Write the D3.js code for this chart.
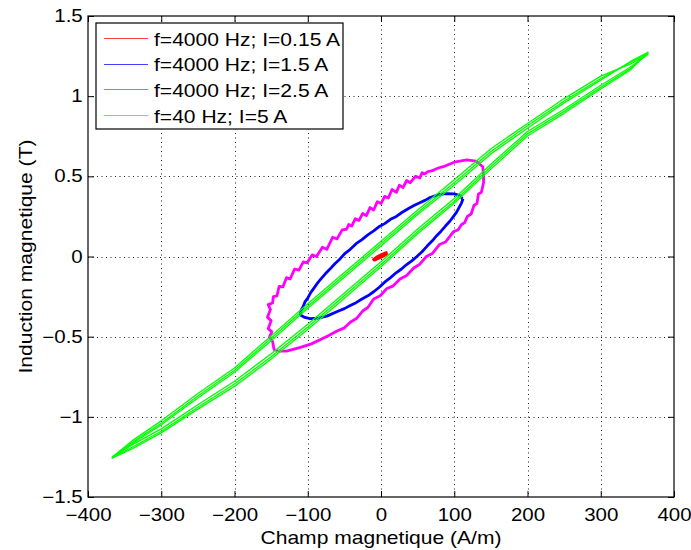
<!DOCTYPE html>
<html>
<head>
<meta charset="utf-8">
<script src="https://cdn.jsdelivr.net/npm/d3@7"></script>
<style>
  body { margin: 0; background: #fff; }
  text { font-family: "Liberation Sans", Arial, Helvetica, sans-serif; fill: #000; }
</style>
</head>
<body>
<svg class="chart"></svg>
<script>
// tick values and labels
var xTicks = [-400, -300, -200, -100, 0, 100, 200, 300, 400];
var xTickLabels = ["\u2212400", "\u2212300", "\u2212200", "\u2212100", "0", "100", "200", "300", "400"];
var yTicks = [-1.5, -1, -0.5, 0, 0.5, 1, 1.5];
var yTickLabels = ["\u22121.5", "\u22121", "\u22120.5", "0", "0.5", "1", "1.5"];

var seriesNames = ["f=4000 Hz; I=0.15 A", "f=4000 Hz; I=1.5 A", "f=4000 Hz; I=2.5 A", "f=40 Hz; I=5 A"];

// loops, [H (A/m), B (T)]
var redLoop = [[9,0.025],[5,0.02],[0,0.01],[-5,-0.002],[-10,-0.018],[-9,-0.022],[-4,-0.012],[1,-0.002],[6,0.01],[9,0.022]];

var blueLoop = [[111,0.36],[108,0.38],[100,0.39],[90,0.392],[80,0.387],[67,0.368],[60,0.35],[53,0.335],[45,0.318],[37,0.298],
  [29,0.276],[21,0.25],[13,0.232],[5,0.205],[-3,0.185],[-10,0.16],[-18,0.135],[-26,0.105],[-34,0.08],[-42,0.045],
  [-49,0.02],[-56,-0.015],[-63,-0.045],[-70,-0.08],[-76,-0.108],[-82,-0.14],[-87,-0.168],[-92,-0.2],[-96,-0.225],[-100,-0.26],
  [-104,-0.285],[-106,-0.31],[-109,-0.335],[-110,-0.355],
  [-110,-0.365],[-104,-0.38],[-97,-0.387],[-86,-0.385],[-74,-0.372],[-58,-0.34],[-50,-0.325],[-42,-0.305],[-34,-0.288],[-26,-0.265],
  [-18,-0.245],[-10,-0.22],[-2,-0.19],[5,-0.16],[13,-0.132],[21,-0.1],[28,-0.078],[35,-0.05],[42,-0.027],[49,0],
  [56,0.03],[63,0.065],[70,0.098],[76,0.13],[82,0.158],[88,0.19],[94,0.22],[99,0.25],[103,0.275],[106,0.3],
  [110,0.335],[112,0.36]];

var magentaLoop = [[140,0.5],[139,0.56],[130,0.595],[117,0.602],[100,0.588],[85,0.56],[78,0.552],[70,0.535],[64,0.53],[60,0.515],
  [56,0.522],[53,0.49],[47,0.5],[40,0.46],[35,0.474],[30,0.43],[25,0.445],[21,0.4],[15,0.418],[10,0.365],
  [5,0.375],[0,0.33],[-5,0.342],[-10,0.29],[-15,0.305],[-20,0.255],[-25,0.268],[-30,0.225],[-35,0.236],[-40,0.19],
  [-44,0.2],[-47,0.17],[-53,0.166],[-60,0.11],[-66,0.12],[-74,0.045],[-80,0.058],[-88,0],[-94,0.01],[-101,-0.04],
  [-106,-0.034],[-112,-0.085],[-118,-0.078],[-124,-0.14],[-129,-0.132],[-134,-0.19],[-139,-0.186],[-142,-0.245],[-147,-0.25],[-148,-0.29],
  [-154,-0.3],[-151,-0.33],[-155,-0.38],[-150,-0.4],[-154,-0.45],[-149,-0.47],[-152,-0.5],[-148,-0.53],[-146,-0.58],[-140,-0.59],
  [-129,-0.59],[-110,-0.567],[-95,-0.545],[-79,-0.51],[-70,-0.49],[-60,-0.465],[-50,-0.445],[-42,-0.41],[-33,-0.385],[-25,-0.34],
  [-18,-0.318],[-10,-0.265],[-1,-0.245],[8,-0.2],[16,-0.185],[26,-0.14],[35,-0.118],[45,-0.07],[52,-0.052],[62,0],
  [70,0.018],[80,0.075],[88,0.09],[99,0.155],[105,0.165],[110,0.2],[114,0.21],[118,0.25],[123,0.265],[127,0.32],
  [131,0.33],[133,0.39],[137,0.4],[140,0.46],[140,0.5]];

// green loop: several cycles sharing the same H samples
// descending branch from +Hmax to -Hmax, then ascending branch back
var greenH = [365, 340, 300, 250, 200, 150, 100, 50, 0, -50, -100, -150, -200, -250, -300, -340, -367,
  -340, -300, -250, -200, -150, -100, -50, 0, 50, 100, 150, 200, 250, 300, 340, 365];
var greenB1 = [1.27, 1.21, 1.11, 0.97, 0.815, 0.655, 0.46, 0.275, 0.08, -0.115, -0.31, -0.51, -0.71, -0.87, -1.04, -1.16, -1.255,
  -1.19, -1.09, -0.94, -0.795, -0.625, -0.44, -0.245, -0.05, 0.155, 0.345, 0.56, 0.765, 0.905, 1.055, 1.17, 1.27];
var greenB2 = [1.262, 1.2, 1.125, 0.985, 0.83, 0.672, 0.478, 0.29, 0.095, -0.1, -0.295, -0.495, -0.695, -0.855, -1.025, -1.15, -1.25,
  -1.175, -1.075, -0.925, -0.778, -0.607, -0.422, -0.228, -0.033, 0.172, 0.362, 0.575, 0.78, 0.918, 1.068, 1.18, 1.262];
var greenB3 = [1.275, 1.215, 1.1, 0.958, 0.8, 0.64, 0.445, 0.262, 0.066, -0.13, -0.323, -0.525, -0.722, -0.882, -1.05, -1.168, -1.258,
  -1.2, -1.1, -0.952, -0.81, -0.64, -0.455, -0.26, -0.064, 0.142, 0.332, 0.545, 0.752, 0.893, 1.045, 1.162, 1.275];

var width = 691;
var height = 550;
var pLeft = 88, pRight = 674, pTop = 16, pBottom = 497;
var stretch = 1.17; // the reference font is wider than Helvetica

var svg = d3.select(".chart")
  .attr("width", width)
  .attr("height", height);

svg.append("rect").attr("width", width).attr("height", height).attr("fill", "#fff");

var x = d3.scaleLinear().domain([-400, 400]).range([pLeft, pRight]);
var y = d3.scaleLinear().domain([-1.5, 1.5]).range([pBottom, pTop]);

// grid (dotted)
svg.append("g").selectAll("line")
  .data(xTicks.slice(1, -1))
  .enter().append("line")
  .attr("x1", function(d){ return Math.round(x(d)) + 0.5; })
  .attr("x2", function(d){ return Math.round(x(d)) + 0.5; })
  .attr("y1", pTop).attr("y2", pBottom)
  .attr("stroke", "#222")
  .attr("stroke-dasharray", "1,3.5");

svg.append("g").selectAll("line")
  .data(yTicks.slice(1, -1))
  .enter().append("line")
  .attr("y1", function(d){ return Math.round(y(d)) + 0.5; })
  .attr("y2", function(d){ return Math.round(y(d)) + 0.5; })
  .attr("x1", pLeft).attr("x2", pRight)
  .attr("stroke", "#222")
  .attr("stroke-dasharray", "1,3.5");

// loops
svg.append("clipPath").attr("id", "plotclip")
  .append("rect").attr("x", pLeft).attr("y", pTop)
  .attr("width", pRight - pLeft).attr("height", pBottom - pTop);

var line = d3.line()
  .x(function(d){ return x(d[0]); })
  .y(function(d){ return y(d[1]); });

var plot = svg.append("g").attr("clip-path", "url(#plotclip)");

var zipGreen = function(bs){
  return greenH.map(function(h, i){ return [h, bs[i]]; });
};

var loops = [
  {data: redLoop, color: "#ff0000", w: 3},
  {data: blueLoop, color: "#0000ff", w: 2.8},
  {data: magentaLoop, color: "#ff00ff", w: 2.8},
  {data: zipGreen(greenB1), color: "#00ff00", w: 1.3},
  {data: zipGreen(greenB2), color: "#00ff00", w: 1.3},
  {data: zipGreen(greenB3), color: "#00ff00", w: 1.3}
];

plot.selectAll("path")
  .data(loops)
  .enter()
  .append("path")
  .attr("d", function(d){ return line(d.data); })
  .attr("fill", "none")
  .attr("stroke", function(d){ return d.color; })
  .attr("stroke-width", function(d){ return d.w; })
  .attr("stroke-linejoin", "round");

// axes: ticks inward on four sides
svg.append("g")
  .attr("transform", "translate(0," + pBottom + ")")
  .call(d3.axisBottom(x).tickValues(xTicks)
    .tickFormat(function(d, i){ return xTickLabels[i]; })
    .tickSizeInner(-6).tickSizeOuter(0).tickPadding(12));

svg.append("g")
  .attr("transform", "translate(0," + pTop + ")")
  .call(d3.axisTop(x).tickValues(xTicks).tickFormat("").tickSizeInner(-6).tickSizeOuter(0));

svg.append("g")
  .attr("transform", "translate(" + pLeft + ",0)")
  .call(d3.axisLeft(y).tickValues(yTicks)
    .tickFormat(function(d, i){ return yTickLabels[i]; })
    .tickSizeInner(-6).tickSizeOuter(0).tickPadding(4.5));

svg.append("g")
  .attr("transform", "translate(" + pRight + ",0)")
  .call(d3.axisRight(y).tickValues(yTicks).tickFormat("").tickSizeInner(-6).tickSizeOuter(0));

svg.selectAll(".domain").remove();
svg.selectAll(".tick line").attr("stroke", "#000");
svg.selectAll(".tick text")
  .attr("font-size", "17.5px")
  .attr("font-family", "Liberation Sans, Arial, sans-serif")
  .attr("fill", "#000")
  .attr("transform", "scale(" + stretch + ",1)");

// box
svg.append("rect")
  .attr("x", pLeft).attr("y", pTop)
  .attr("width", pRight - pLeft).attr("height", pBottom - pTop)
  .attr("fill", "none").attr("stroke", "#000").attr("stroke-width", 1.2);

// axis titles
svg.append("text")
  .text("Champ magnetique (A/m)")
  .attr("text-anchor", "middle")
  .attr("font-size", "18px")
  .attr("transform", "translate(" + ((pLeft + pRight) / 2) + ",544) scale(" + stretch + ",1)");

svg.append("text")
  .text("Induction magnetique (T)")
  .attr("text-anchor", "middle")
  .attr("font-size", "18px")
  .attr("transform", "translate(32," + ((pTop + pBottom) / 2) + ") rotate(-90) scale(" + stretch + ",1)");

// legend
var legendColors = ["#ff0000", "#0000ff", "#ff00ff", "#00ff00"];
var leg = svg.append("g");

leg.append("rect")
  .attr("x", 96).attr("y", 23)
  .attr("width", 247).attr("height", 106)
  .attr("fill", "#fff").attr("stroke", "#000").attr("stroke-width", 1.2);

leg.selectAll("line")
  .data(seriesNames)
  .enter()
  .append("line")
  .attr("x1", 104).attr("x2", 148)
  .attr("y1", function(d, i){ return Math.round(38 + i * 25.7) + 0.5; })
  .attr("y2", function(d, i){ return Math.round(38 + i * 25.7) + 0.5; })
  .attr("stroke", function(d, i){ return legendColors[i]; })
  .attr("stroke-opacity", 0.75)
  .attr("stroke-width", 1);

leg.selectAll("text")
  .data(seriesNames)
  .enter()
  .append("text")
  .text(function(d){ return d; })
  .attr("font-size", "18px")
  .attr("transform", function(d, i){ return "translate(154," + (45.5 + i * 25.7) + ") scale(" + stretch + ",1)"; });
</script>
</body>
</html>
